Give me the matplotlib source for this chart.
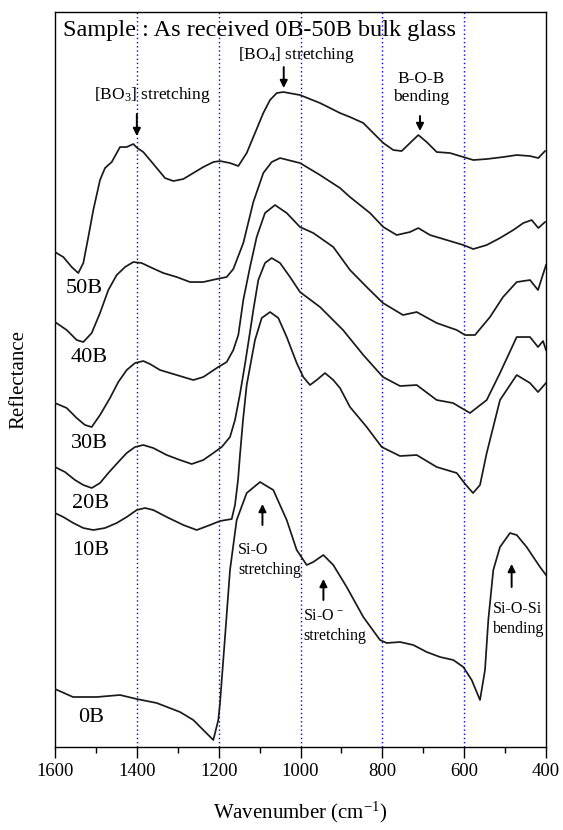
import matplotlib
matplotlib.use("Agg")
import matplotlib.pyplot as plt

plt.rcParams["font.family"] = ["Liberation Serif", "DejaVu Serif"]
plt.rcParams["mathtext.fontset"] = "custom"
plt.rcParams["mathtext.rm"] = "Liberation Serif"
plt.rcParams["mathtext.it"] = "Liberation Serif:italic"

# Reflectance spectra (arb. units, vertically offset), wavenumber in cm^-1
wn_50B = [1600, 1579.7, 1559.2, 1543.1, 1530.8, 1518.6, 1506.4, 1490, 1477.8, 1461.4,
          1449.2, 1441.1, 1424.8, 1408.6, 1398.9, 1384.2, 1367.8, 1351.4, 1331.2, 1310.9,
          1286.4, 1262, 1237.6, 1213.1, 1196.7, 1172.3, 1152, 1131.5, 1111.2, 1090.9,
          1074.5, 1058.2, 1042, 1001.2, 952.3, 903.5, 879, 846.5, 822.1, 797.6,
          773.2, 752.7, 732.4, 712.1, 691.6, 667.1, 634.6, 602.1, 577.7, 544.9,
          504.4, 471.6, 439.1, 418.8, 402.4]
r_50B = [4.95, 4.90, 4.80, 4.74, 4.84, 5.10, 5.37, 5.67, 5.79, 5.85,
         5.94, 6.00, 6.00, 6.03, 5.99, 5.95, 5.87, 5.79, 5.69, 5.66,
         5.68, 5.74, 5.80, 5.85, 5.86, 5.84, 5.81, 5.94, 6.14, 6.34,
         6.47, 6.54, 6.55, 6.52, 6.44, 6.34, 6.30, 6.24, 6.14, 6.04,
         5.97, 5.96, 6.04, 6.12, 6.05, 5.95, 5.94, 5.90, 5.87, 5.88,
         5.90, 5.92, 5.91, 5.89, 5.96]

wn_40B = [1600, 1571.4, 1547, 1530.8, 1510.3, 1490, 1469.7, 1449.2, 1428.9, 1408.6,
          1388.1, 1367.8, 1335.3, 1302.6, 1270, 1237.6, 1204.8, 1180.4, 1164.2, 1139.8,
          1115.3, 1090.9, 1070.4, 1050, 1001.2, 952.3, 903.5, 879, 830.1, 797.6,
          764.9, 732.4, 712.1, 683.5, 642.7, 602.1, 577.7, 544.9, 512.4, 479.9,
          455.5, 435, 418.8, 402.4]
r_40B = [4.25, 4.17, 4.07, 4.05, 4.14, 4.34, 4.57, 4.72, 4.80, 4.85,
         4.84, 4.80, 4.74, 4.70, 4.65, 4.65, 4.68, 4.70, 4.78, 5.04,
         5.45, 5.74, 5.85, 5.89, 5.84, 5.72, 5.59, 5.50, 5.34, 5.20,
         5.12, 5.15, 5.19, 5.12, 5.07, 5.02, 4.98, 5.02, 5.09, 5.17,
         5.24, 5.27, 5.19, 5.25]

wn_30B = [1600, 1571.4, 1547, 1526.7, 1510.3, 1490, 1465.6, 1445.3, 1424.8, 1404.5,
          1384.2, 1367.8, 1343.4, 1318.9, 1286.4, 1262, 1237.6, 1204.8, 1180.4, 1164.2,
          1152, 1139.8, 1123.4, 1107.1, 1086.8, 1062.3, 1033.7, 1001.2, 968.7, 919.8,
          879, 838.2, 798.4, 749.5, 716, 667.1, 618.2, 597.9, 573.5, 536.9,
          505, 471.6, 439.1, 419.5, 400]
r_30B = [3.44, 3.39, 3.29, 3.22, 3.20, 3.32, 3.49, 3.65, 3.77, 3.84,
         3.86, 3.83, 3.77, 3.74, 3.70, 3.67, 3.70, 3.79, 3.85, 3.97,
         4.12, 4.47, 4.80, 5.10, 5.34, 5.42, 5.34, 5.20, 5.14, 5.00,
         4.77, 4.60, 4.44, 4.32, 4.35, 4.24, 4.17, 4.12, 4.12, 4.30,
         4.50, 4.65, 4.67, 4.57, 4.82]

wn_20B = [1600, 1575.6, 1551.1, 1530.8, 1510.3, 1490, 1469.7, 1445.3, 1424.8, 1404.5,
          1384.2, 1359.8, 1327, 1294.5, 1265.9, 1237.6, 1213.1, 1192.6, 1172.3, 1160.1,
          1147.9, 1135.6, 1123.4, 1115.3, 1103.1, 1086.8, 1070.4, 1050, 1025.6, 1001.2,
          952.3, 896.1, 846.5, 798.4, 756.8, 716, 667.1, 627.3, 585.7, 544.9,
          512.4, 471.6, 439.1, 419.5, 407.3, 400]
r_20B = [2.80, 2.75, 2.67, 2.62, 2.59, 2.64, 2.74, 2.85, 2.94, 3.00,
         3.02, 2.99, 2.92, 2.87, 2.83, 2.87, 2.94, 3.00, 3.10, 3.27,
         3.53, 3.83, 4.15, 4.37, 4.67, 4.84, 4.89, 4.84, 4.70, 4.55,
         4.40, 4.17, 3.92, 3.70, 3.61, 3.62, 3.47, 3.44, 3.34, 3.47,
         3.74, 4.10, 4.10, 4.00, 4.06, 3.97]

wn_10B = [1600, 1579.7, 1555.3, 1530.8, 1506.4, 1477.8, 1449.2, 1424.8, 1400.3, 1380,
          1359.8, 1327, 1286.4, 1253.7, 1221.2, 1196.7, 1168.1, 1160.1, 1152.7, 1147.9,
          1140.5, 1131.5, 1123.4, 1111.2, 1094.8, 1074.5, 1054.2, 1033.7, 1009.3, 993.2,
          976.8, 960.4, 940.1, 919.9, 903.5, 879, 838.2, 801.5, 756.8, 716,
          667.1, 618.2, 595.5, 578.4, 561.3, 544.9, 512.4, 471.6, 439.1, 419.5, 400]
r_10B = [2.34, 2.30, 2.24, 2.19, 2.17, 2.19, 2.24, 2.30, 2.37, 2.39,
         2.37, 2.30, 2.22, 2.17, 2.22, 2.26, 2.28, 2.42, 2.67, 2.92,
         3.27, 3.62, 3.80, 4.07, 4.29, 4.35, 4.29, 4.10, 3.84, 3.70,
         3.62, 3.67, 3.74, 3.67, 3.59, 3.40, 3.20, 3.00, 2.91, 2.92,
         2.80, 2.74, 2.62, 2.54, 2.62, 2.94, 3.47, 3.72, 3.64, 3.55, 3.64]

wn_0B = [1600, 1556, 1498, 1441.1, 1400.3, 1351.4, 1294.5, 1262, 1237.6, 1213.1,
         1200.9, 1196.7, 1184.5, 1172.3, 1156, 1131.5, 1098.9, 1066.5, 1033.7, 1009.3,
         984.8, 968.7, 944.2, 919.9, 887.1, 846.5, 805.7, 789.3, 756.8, 724.3,
         691.6, 659.1, 626.5, 602.1, 581.6, 561.3, 549.1, 541, 528.8, 512.4,
         488, 471.6, 447.3, 431, 414.6, 400]
r_0B = [0.58, 0.50, 0.50, 0.52, 0.48, 0.44, 0.35, 0.27, 0.17, 0.07,
        0.27, 0.44, 1.10, 1.77, 2.27, 2.54, 2.65, 2.57, 2.27, 1.97,
        1.82, 1.85, 1.92, 1.82, 1.60, 1.30, 1.07, 1.04, 1.05, 1.02,
        0.95, 0.90, 0.87, 0.80, 0.67, 0.47, 0.77, 1.27, 1.77, 2.00,
        2.14, 2.12, 2.00, 1.90, 1.80, 1.72]

spectra = [("50B", wn_50B, r_50B), ("40B", wn_40B, r_40B), ("30B", wn_30B, r_30B),
           ("20B", wn_20B, r_20B), ("10B", wn_10B, r_10B), ("0B", wn_0B, r_0B)]

# sample labels: (text, wavenumber, reflectance)
sample_labels = [("50B", 1528, 4.59), ("40B", 1516, 3.90), ("30B", 1516, 3.04),
                 ("20B", 1513, 2.44), ("10B", 1512, 1.97), ("0B", 1512, 0.30)]

guide_lines = [1400, 1200, 1000, 800, 600]
major_ticks = [1600, 1400, 1200, 1000, 800, 600, 400]
minor_ticks = [1500, 1300, 1100, 900, 700, 500]

fig = plt.figure(figsize=(5.63, 8.30), dpi=100)
ax = fig.add_axes([0.0977, 0.10, 0.8721, 0.8855])

for wx in guide_lines:
    ax.axvline(wx, color="blue", linestyle=(0, (1, 2)), linewidth=1.0, zorder=1)

for name, wn, r in spectra:
    ax.plot(wn, r, color="#1a1a1a", linewidth=1.25, zorder=3,
            solid_joinstyle="round")

for text, wx, ry in sample_labels:
    ax.text(wx, ry, text, fontsize=16, ha="center", va="center")

ax.text(1580, 7.17, "Sample : As received 0B-50B bulk glass", fontsize=17.5,
        ha="left", va="center")

arrow_kw = dict(arrowstyle="-|>", color="black", lw=1.4, mutation_scale=11,
                shrinkA=0, shrinkB=0)

# band assignments
ax.text(1011, 6.92, r"[BO$_4$] stretching", fontsize=12.5, ha="center", va="center")
ax.annotate("", xy=(1041, 6.59), xytext=(1041, 6.80), arrowprops=arrow_kw)

ax.text(1363, 6.52, r"[BO$_3$] stretching", fontsize=12.5, ha="center", va="center")
ax.annotate("", xy=(1400, 6.11), xytext=(1400, 6.33), arrowprops=arrow_kw)

ax.text(705, 6.59, "B-O-B\nbending", fontsize=12.5, ha="center", va="center",
        linespacing=1.2)
ax.annotate("", xy=(708, 6.16), xytext=(708, 6.31), arrowprops=arrow_kw)

ax.text(1153, 1.87, "Si-O\nstretching", fontsize=11.5, ha="left", va="center",
        linespacing=1.3)
ax.annotate("", xy=(1093, 2.43), xytext=(1093, 2.22), arrowprops=arrow_kw)

ax.text(994, 1.21, "Si-O$^{\\,-}$\nstretching", fontsize=11.5, ha="left", va="center",
        linespacing=1.3)
ax.annotate("", xy=(944, 1.68), xytext=(944, 1.47), arrowprops=arrow_kw)

ax.text(530, 1.28, "Si-O-Si\nbending", fontsize=11.5, ha="left", va="center",
        linespacing=1.3)
ax.annotate("", xy=(484, 1.83), xytext=(484, 1.60), arrowprops=arrow_kw)

ax.set_xlim(1600, 400)
ax.set_ylim(0, 7.35)
ax.set_xticks(major_ticks)
ax.set_xticks(minor_ticks, minor=True)
ax.set_yticks([])
ax.tick_params(axis="x", which="major", direction="out", length=8, width=1.0,
               labelsize=13.5, pad=3.5)
ax.tick_params(axis="x", which="minor", direction="out", length=4.5, width=1.0)
for sp in ax.spines.values():
    sp.set_linewidth(1.0)

ax.set_xlabel("Wavenumber (cm$^{-1}$)", fontsize=15, labelpad=14)
ax.set_ylabel("Reflectance", fontsize=15, labelpad=19)

fig.savefig("out.png", dpi=100)
